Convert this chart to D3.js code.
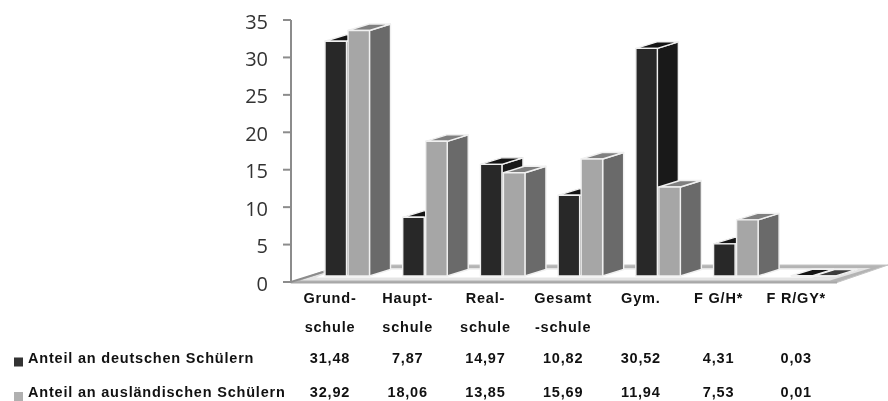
<!doctype html>
<html>
  <head>
    <script src="https://cdnjs.cloudflare.com/ajax/libs/d3/7.8.5/d3.min.js"></script>
    <style>
      body, html {
        margin: 0;
        background: #fff;
      }
      svg {
        display: block;
        filter: blur(0.45px);
      }
      text.tbl {
        font-family: "Liberation Sans", Arial, sans-serif;
        font-weight: bold;
        font-size: 14.5px;
        letter-spacing: 0.8px;
        fill: #111;
      }
      text.ytick {
        font-family: "Open Sans", sans-serif;
        font-size: 20px;
        fill: #333;
      }
    </style>
  </head>
  <body>
    <svg width="888" height="401"></svg>
    <script>
      var categories = ["Grund-|schule", "Haupt-|schule", "Real-|schule", "Gesamt|-schule", "Gym.", "F G/H*", "F R/GY*"];
      var deutsche = [31.48, 7.87, 14.97, 10.82, 30.52, 4.31, 0.03];
      var auslaender = [32.92, 18.06, 13.85, 15.69, 11.94, 7.53, 0.01];
      var deutscheLabels = ["31,48", "7,87", "14,97", "10,82", "30,52", "4,31", "0,03"];
      var auslaenderLabels = ["32,92", "18,06", "13,85", "15,69", "11,94", "7,53", "0,01"];
      var yTicks = [0, 5, 10, 15, 20, 25, 30, 35];
      var seriesNames = ["Anteil an deutschen Schülern", "Anteil an ausländischen Schülern"];

      var svg = d3.select("svg");

      // wall axis and bar scale differ a bit, bars stand further forward on the floor
      var axisY = d3.scaleLinear().domain([0, 35]).range([282, 20]);
      var barY = d3.scaleLinear().domain([0, 35]).range([276, 15]);
      var x = d3.scaleBand().domain(d3.range(7)).range([325, 869]);

      var barW = 21.5, gap = 1.5, dx = 21, dy = 6.5;

      // floor
      svg.append("path")
        .attr("d", "M291,282.5 L837,282.5 L888,265 L341,265 Z")
        .attr("fill", "#b4b4b4").attr("stroke", "#c4c4c4").attr("stroke-width", 1);
      svg.append("path")
        .attr("d", "M300,280.5 L830,280.5 L871,268 L338,268 Z")
        .attr("fill", "#e4e4e4");
      svg.append("path")
        .attr("d", "M316,277.5 L812,277.5 L846,269.5 L336,269.5 Z")
        .attr("fill", "#fff");
      svg.append("path")
        .attr("d", "M291,282.5 L837,282.5")
        .attr("stroke", "#a8a8a8").attr("stroke-width", 2);

      // axis
      svg.append("path")
        .attr("d", "M291," + axisY(35) + " V" + axisY(0) + " L323,272")
        .attr("fill", "none").attr("stroke", "#8c8c8c").attr("stroke-width", 2);
      svg.selectAll("line.tick").data(yTicks).enter().append("line")
        .attr("class", "tick")
        .attr("x1", 283).attr("x2", 291)
        .attr("y1", d => axisY(d)).attr("y2", d => axisY(d))
        .attr("stroke", "#8c8c8c").attr("stroke-width", 2);
      svg.selectAll("text.ytick").data(yTicks).enter().append("text")
        .attr("class", "ytick")
        .attr("x", 268).attr("y", d => axisY(d) + 8.5)
        .attr("text-anchor", "end")
        .text(d => d);

      function bar3d(x0, v, front, side, top) {
        var y0 = barY(v), y1 = barY(0);
        var g = svg.append("g").attr("stroke", "#f0f0f0").attr("stroke-width", 1.4).attr("stroke-linejoin", "round");
        g.append("path").attr("fill", side)
          .attr("d", `M${x0 + barW},${y0} L${x0 + barW + dx},${y0 - dy} V${y1 - dy} L${x0 + barW},${y1} Z`);
        g.append("path").attr("fill", top)
          .attr("d", `M${x0},${y0} L${x0 + dx},${y0 - dy} H${x0 + barW + dx} L${x0 + barW},${y0} Z`);
        g.append("rect").attr("fill", front)
          .attr("x", x0).attr("y", y0).attr("width", barW).attr("height", y1 - y0);
      }

      // left to right so nearer neighbours cover the sides
      categories.forEach(function (c, i) {
        var lightTop = i == 6 ? "#3c3c3c" : "#7f7f7f";
        bar3d(x(i), deutsche[i], "#282828", "#191919", "#141414");
        bar3d(x(i) + barW + gap, auslaender[i], "#a6a6a6", "#6a6a6a", lightTop);
      });

      // table under the chart
      var colCenter = i => x(i) + 5;
      categories.forEach(function (c, i) {
        c.split("|").forEach(function (part, k) {
          svg.append("text").attr("class", "tbl")
            .attr("x", colCenter(i)).attr("y", 303 + k * 29)
            .attr("text-anchor", "middle").text(part);
        });
        svg.append("text").attr("class", "tbl")
          .attr("x", colCenter(i)).attr("y", 362.5).attr("text-anchor", "middle").text(deutscheLabels[i]);
        svg.append("text").attr("class", "tbl")
          .attr("x", colCenter(i)).attr("y", 397).attr("text-anchor", "middle").text(auslaenderLabels[i]);
      });

      // legend keys
      var legendColors = ["#333333", "#b0b0b0"];
      [362.5, 397].forEach(function (yy, i) {
        svg.append("rect").attr("x", 14).attr("y", yy - 5).attr("width", 9).attr("height", 9).attr("fill", legendColors[i]);
        svg.append("text").attr("class", "tbl").attr("x", 28).attr("y", yy).text(seriesNames[i]);
      });
    </script>
  </body>
</html>
